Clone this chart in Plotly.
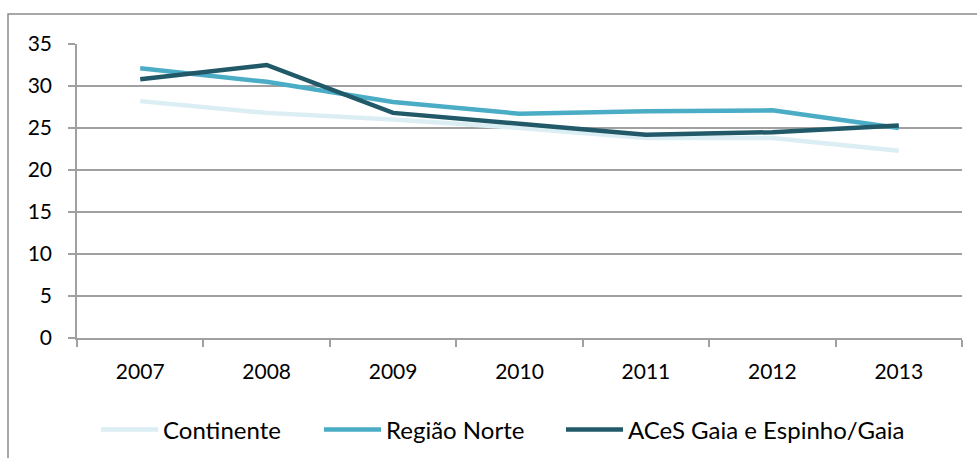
import plotly.graph_objects as go

# Series values per year
years = ["2007", "2008", "2009", "2010", "2011", "2012", "2013"]
continente = [28.2, 26.8, 26.0, 25.0, 23.8, 23.8, 22.3]
regiao_norte = [32.1, 30.5, 28.1, 26.7, 27.0, 27.1, 25.0]
aces_gaia = [30.8, 32.5, 26.8, 25.5, 24.2, 24.5, 25.3]

series = [
    ("Continente", continente, "#DBEEF4", "legend"),
    ("Região Norte", regiao_norte, "#4BACC6", "legend2"),
    ("ACeS Gaia e Espinho/Gaia", aces_gaia, "#215968", "legend3"),
]

fig = go.Figure()
for name, vals, color, leg in series:
    fig.add_trace(go.Scatter(
        x=years, y=vals, name=name, mode="lines",
        line=dict(color=color, width=4.5), legend=leg,
    ))

axis_gray = "#A0A0A0"
font_family = "Lato, Carlito, 'Open Sans', sans-serif"

W, H = 977, 458


def legend_at(px_left):
    return dict(
        orientation="h", xref="container", x=px_left / W, xanchor="left",
        yref="container", y=(H - 430) / H, yanchor="middle",
        font=dict(size=24), itemwidth=57,
        bgcolor="rgba(0,0,0,0)", borderwidth=0,
    )


fig.update_layout(
    width=W, height=H,
    margin=dict(l=77, r=15, t=44, b=120, autoexpand=False),
    paper_bgcolor="white", plot_bgcolor="white",
    font=dict(family=font_family, size=21, color="#000000"),
    showlegend=True,
    legend=legend_at(96),
    legend2=legend_at(319),
    legend3=legend_at(561),
    xaxis=dict(
        type="category", range=[-0.5, 6.5],
        showgrid=False, showline=True, linecolor=axis_gray, linewidth=1.5,
        ticks="outside", tickson="boundaries", ticklen=7,
        tickcolor=axis_gray, tickwidth=1.5,
        ticklabelstandoff=14,
    ),
    yaxis=dict(
        range=[0, 35], dtick=5, tick0=0,
        showgrid=True, gridcolor=axis_gray, gridwidth=1.5,
        showline=True, linecolor=axis_gray, linewidth=1.5,
        ticks="outside", ticklen=7, tickcolor=axis_gray, tickwidth=1.5,
        ticklabelstandoff=12, zeroline=False,
    ),
    shapes=[dict(
        type="rect", xref="paper", yref="paper",
        x0=(8 - 77) / 885, x1=(990 - 77) / 885,
        y0=(338 - 470) / 294, y1=(338 - 14) / 294,
        line=dict(color="#8C8C8C", width=1.5), fillcolor="rgba(0,0,0,0)",
        layer="below",
    )],
)

fig.write_html("out.html")
